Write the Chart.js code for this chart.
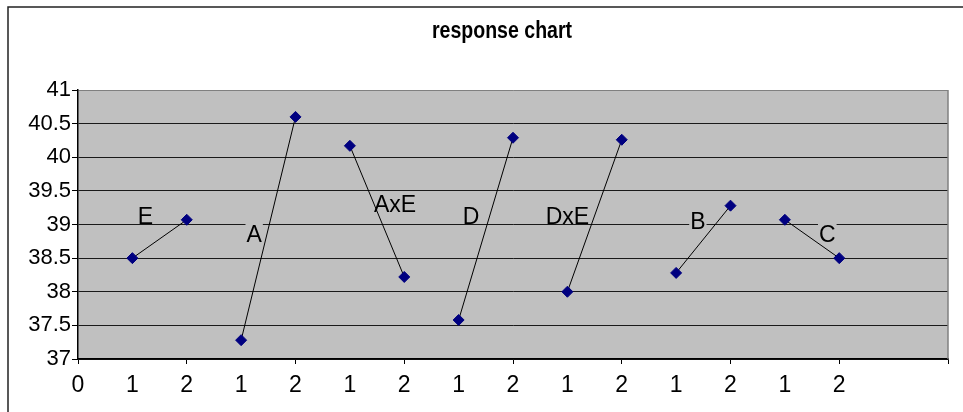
<!DOCTYPE html>
<html>
<head>
<meta charset="utf-8">
<title>response chart</title>
<script src="https://cdn.jsdelivr.net/npm/chart.js@4/dist/chart.umd.min.js"></script>
<style>
    html, body { margin: 0; padding: 0; background: #fff; }
    #responseChart { display: block; }
</style>
</head>
<body>
<canvas id="responseChart" width="963" height="412"></canvas>
<script>
// Factor names, one line segment each (level 1 -> level 2)
const factors = ['E', 'A', 'AxE', 'D', 'DxE', 'B', 'C'];
const xLevel1 = [1, 3, 5, 7, 9, 11, 13];
const xLevel2 = [2, 4, 6, 8, 10, 12, 14];
const level1 = [38.5, 37.28, 40.17, 37.58, 38.0, 38.28, 39.07];
const level2 = [39.07, 40.6, 38.22, 40.29, 40.26, 39.28, 38.5];

// Where each factor name sits (data units)
const labelX = [1.24, 3.24, 5.83, 7.23, 9.0, 11.4, 13.78];
const labelY = [39.13, 38.86, 39.31, 39.13, 39.13, 39.05, 38.86];

// Tick labels
const xTickLabels = ['0', '1', '2', '1', '2', '1', '2', '1', '2', '1', '2', '1', '2', '1', '2'];
const yTickLabels = ['37', '37.5', '38', '38.5', '39', '39.5', '40', '40.5', '41'];

const titleText = 'response chart';
const FONT = "'Liberation Sans', Arial, sans-serif";

// Draws the white frame, grey plot area, title and factor labels
const chartDecor = {
    id: 'chartDecor',
    beforeDraw(chart) {
        const { ctx, chartArea } = chart;
        ctx.save();
        ctx.fillStyle = '#fff';
        ctx.fillRect(0, 0, chart.width, chart.height);

        // outer frame (runs off the right and bottom edges)
        ctx.strokeStyle = '#222';
        ctx.lineWidth = 1.5;
        ctx.strokeRect(8, 7, chart.width + 20, chart.height + 20);

        // plot area
        ctx.fillStyle = '#c0c0c0';
        ctx.fillRect(chartArea.left, chartArea.top,
            chartArea.right - chartArea.left, chartArea.bottom - chartArea.top);

        // title, slightly condensed
        ctx.fillStyle = '#000';
        ctx.font = 'bold 23px ' + FONT;
        ctx.textAlign = 'center';
        ctx.textBaseline = 'middle';
        ctx.translate(502, 32);
        ctx.scale(0.85, 1);
        ctx.fillText(titleText, 0, 0);
        ctx.restore();
    },
    beforeDatasetsDraw(chart) {
        const { ctx, chartArea, scales } = chart;
        ctx.save();
        // grey border on the right of the plot
        ctx.strokeStyle = '#808080';
        ctx.lineWidth = 1.5;
        ctx.beginPath();
        ctx.moveTo(chartArea.right, chartArea.top);
        ctx.lineTo(chartArea.right, chartArea.bottom);
        ctx.stroke();

        // factor names with a grey box that hides the grid
        const size = 23;
        ctx.font = size + 'px ' + FONT;
        ctx.textAlign = 'center';
        ctx.textBaseline = 'alphabetic';
        factors.forEach((name, i) => {
            const px = scales.x.getPixelForValue(labelX[i]);
            const py = scales.y.getPixelForValue(labelY[i]);
            const w = ctx.measureText(name).width;
            const capH = size * 0.716;
            ctx.fillStyle = '#c0c0c0';
            ctx.fillRect(px - w / 2 - 1, py - capH / 2 - 3, w + 2, capH + 2);
            ctx.fillStyle = '#000';
            ctx.fillText(name, px, py + capH / 2);
        });
        ctx.restore();
    }
};

const datasets = factors.map((name, i) => ({
    label: name,
    data: [
        { x: xLevel1[i], y: level1[i] },
        { x: xLevel2[i], y: level2[i] }
    ],
    showLine: true,
    borderColor: '#000',
    borderWidth: 1,
    pointStyle: 'rectRot',
    pointRadius: 5.5,
    pointBackgroundColor: '#000080',
    pointBorderColor: '#000080',
    pointBorderWidth: 1
}));

new Chart(document.getElementById('responseChart'), {
    type: 'scatter',
    data: { datasets: datasets },
    plugins: [chartDecor],
    options: {
        responsive: false,
        animation: false,
        layout: {
            padding: { top: 90, right: 15, left: 0, bottom: 0 }
        },
        scales: {
            x: {
                type: 'linear',
                min: 0,
                max: 16,
                afterFit: (scale) => { scale.height = 53; },
                ticks: {
                    stepSize: 1,
                    autoSkip: false,
                    maxRotation: 0,
                    padding: 8,
                    color: '#000',
                    font: { size: 23, family: FONT },
                    callback: (value) => xTickLabels[value] !== undefined ? xTickLabels[value] : ''
                },
                grid: {
                    drawOnChartArea: false,
                    tickLength: 5,
                    tickColor: (ctx) => (ctx.tick && ctx.tick.value % 2 === 0) ? '#000' : 'rgba(0,0,0,0)'
                },
                border: { color: '#000', width: 1.5 }
            },
            y: {
                min: 37,
                max: 41,
                afterFit: (scale) => { scale.width = 78; },
                ticks: {
                    stepSize: 0.5,
                    padding: 1,
                    color: '#000',
                    font: { size: 22, family: FONT },
                    callback: (value, index) => yTickLabels[index]
                },
                grid: {
                    color: (ctx) => (ctx.tick && ctx.tick.value === 41) ? '#808080' : '#1a1a1a',
                    tickColor: '#000',
                    tickLength: 6,
                    lineWidth: 1
                },
                border: { color: '#000', width: 1.5 }
            }
        },
        plugins: {
            legend: { display: false },
            tooltip: { enabled: false },
            title: { display: false }
        }
    }
});
</script>
</body>
</html>
